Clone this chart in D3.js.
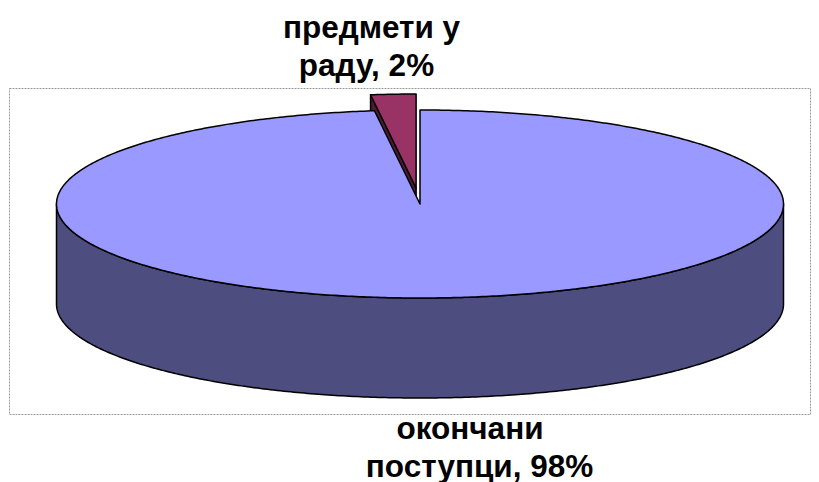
<!DOCTYPE html>
<html><head><meta charset="utf-8">
<script src="https://cdn.jsdelivr.net/npm/d3@7"></script>
<style>body{margin:0;background:#fff}svg{display:block}</style>
</head><body>
<svg id="c" width="819" height="482"></svg>
<script>
const categories = ["окончани поступци", "предмети у раду"];
const values = [98, 2];
const labelLines = [["окончани", "поступци, 98%"], ["предмети у", "раду, 2%"]];
const topColors = ["#9999FF", "#993366"];
const sideColors = ["#4D4D80", "#4D1A33"];

const svg = d3.select("#c");
const cx = 420, cy = 204, rx = 363.5, ry = 94, depth = 100;
const explode = [0, 16];

// plot area border
svg.append("rect").attr("x", 9.5).attr("y", 88.5).attr("width", 801).attr("height", 326)
  .attr("fill", "none").attr("stroke", "#9a9a9a").attr("stroke-width", 1).attr("stroke-dasharray", "2,1");

const pie = d3.pie().sort(null).startAngle(0).endAngle(2 * Math.PI);
const arcs = pie(values);
const sx = d3.scaleLinear().domain([-1, 1]).range([cx - rx, cx + rx]);
const sy = d3.scaleLinear().domain([-1, 1]).range([cy - ry, cy + ry]);

function pt(theta, off, dz) {
  return [sx(Math.sin(theta)) + off[0], sy(-Math.cos(theta)) + off[1] + (dz || 0)];
}
function arcPts(a0, a1, off, dz) {
  const n = Math.max(2, Math.ceil(Math.abs(a1 - a0) / 0.01));
  return d3.range(n + 1).map(i => pt(a0 + (a1 - a0) * i / n, off, dz));
}
const line = d3.line().curve(d3.curveLinear);

function offsetFor(d, i) {
  if (!explode[i]) return [0, 0];
  const mid = (d.startAngle + d.endAngle) / 2;
  const k = explode[i] / ry;
  return [k * rx * Math.sin(mid), -k * ry * Math.cos(mid)];
}

const g = svg.append("g").attr("stroke", "#000").attr("stroke-width", 1.5).attr("stroke-linejoin", "round");

// small exploded slice (behind)
arcs.forEach((d, i) => {
  if (i !== 1) return;
  const off = offsetFor(d, i);
  const c = [cx + off[0], cy + off[1]];
  const e = pt(d.startAngle, off);
  g.append("path").attr("d", line([c, e, [e[0], e[1] + depth], [c[0], c[1] + depth]]) + "Z")
    .attr("fill", sideColors[i]);
  g.append("path").attr("d", line([c].concat(arcPts(d.startAngle, d.endAngle, off))) + "Z")
    .attr("fill", topColors[i]);
});

// main slice
arcs.forEach((d, i) => {
  if (i !== 0) return;
  const off = [0, 0];
  const a0 = Math.PI / 2, a1 = 3 * Math.PI / 2;
  const topArc = arcPts(a0, a1, off);
  const botArc = arcPts(a1, a0, off, depth);
  g.append("path").attr("d", line(topArc.concat(botArc)) + "Z").attr("fill", sideColors[i]);
  const c = [cx, cy];
  g.append("path").attr("d", line([c].concat(arcPts(d.startAngle, d.endAngle, off))) + "Z")
    .attr("fill", topColors[i]);
});

// labels
const labelPos = [
  [{x: 470, y: 438.5}, {x: 479.5, y: 476.5}],
  [{x: 371.5, y: 37.5}, {x: 366.5, y: 76}]
];
labelLines.forEach((lines, i) => {
  lines.forEach((t, j) => {
    svg.append("text").attr("x", labelPos[i][j].x).attr("y", labelPos[i][j].y)
      .attr("text-anchor", "middle").attr("font-family", "Liberation Sans, Arial, sans-serif")
      .attr("font-weight", "bold").attr("font-size", 31.5).attr("fill", "#000").text(t);
  });
});
</script>
</body></html>
